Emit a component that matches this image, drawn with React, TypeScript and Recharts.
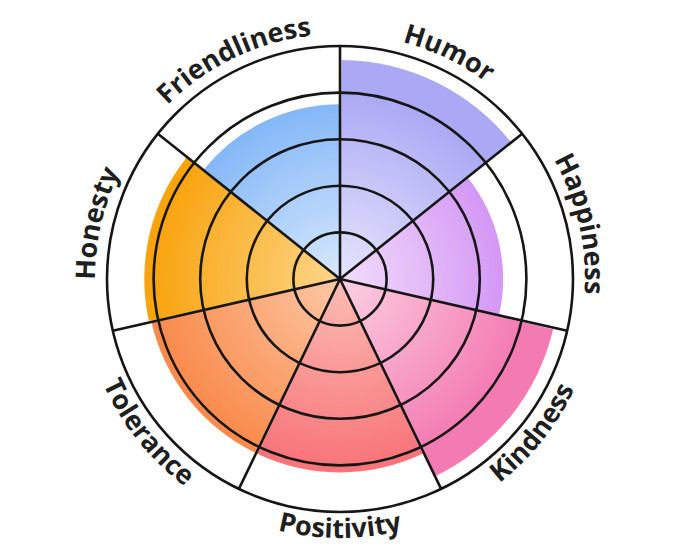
import React from 'react';
import {
  RadialBarChart,
  RadialBar,
  PolarGrid,
  PolarAngleAxis,
  PolarRadiusAxis,
  Cell
} from 'recharts';

// categories go clockwise starting at 12 o'clock
const categories = ['Humor', 'Happiness', 'Kindness', 'Positivity', 'Tolerance', 'Honesty', 'Friendliness'];
const scores = [4.7, 3.5, 4.7, 4.15, 4.15, 4.2, 3.75];
const scaleTicks = [0, 1, 2, 3, 4, 5];

const outerColors = ['#aba8f5', '#d08cf4', '#f47bb2', '#f87479', '#f98a4b', '#f9a30e', '#7cb3f7'];
const innerColors = ['#e6e5fc', '#f1defc', '#fcd0e2', '#fcbdb4', '#fdc8a6', '#fdd68a', '#d9e9fd'];

const data = categories.map((name, i) => ({ name, score: scores[i] }));

const WIDTH = 664;
const HEIGHT = 541;
const CX = 332;
const CY = 271;
const RADIUS = 233;

const step = 360 / categories.length;
// first band starts one step clockwise of 12 o'clock so Humor sits right of the top line
const START = 90 - step;
const END = START - 360;
// sector boundaries, in recharts' angle convention (90 = top, counter-clockwise positive)
const boundaryAngles = categories.map((_, i) => 90 - i * step);

// Curved label that follows the outer circle
const CurvedLabel = (props: any) => {
  const { payload } = props;
  const i = categories.indexOf(payload.value);
  if (i < 0) return null;
  const mid = (i + 0.5) * step; // clockwise from top
  const flip = mid > 90 && mid < 270;
  const r = flip ? RADIUS + 26 : RADIUS + 12;
  const half = 50;
  const pt = (deg: number) => [
    CX + r * Math.sin((deg * Math.PI) / 180),
    CY - r * Math.cos((deg * Math.PI) / 180)
  ];
  const [p1, p2] = flip ? [pt(mid + half), pt(mid - half)] : [pt(mid - half), pt(mid + half)];
  const d = `M ${p1[0]} ${p1[1]} A ${r} ${r} 0 0 ${flip ? 0 : 1} ${p2[0]} ${p2[1]}`;
  const id = `label-arc-${i}`;
  return (
    <g>
      <path id={id} d={d} fill="none" stroke="none" />
      <text
        fontSize={27}
        fontWeight={700}
        fill="#1f1f1f"
        fontFamily="'Open Sans', sans-serif"
      >
        <textPath href={`#${id}`} startOffset="50%" textAnchor="middle">
          {payload.value}
        </textPath>
      </text>
    </g>
  );
};

const chartProps = {
  width: WIDTH,
  height: HEIGHT,
  data,
  layout: 'centric' as const,
  cx: CX,
  cy: CY,
  innerRadius: 0,
  outerRadius: RADIUS,
  startAngle: START,
  endAngle: END,
  barCategoryGap: 0,
  barGap: 0,
  margin: { top: 0, right: 0, bottom: 0, left: 0 }
};

export default function App() {
  return (
    <div style={{ position: 'relative', width: WIDTH, height: HEIGHT }}>
      {/* bottom layer: the coloured sectors */}
      <div style={{ position: 'absolute', left: 0, top: 0 }}>
        <RadialBarChart {...chartProps}>
          <defs>
            {categories.map((c, i) => (
              <radialGradient
                key={c}
                id={`grad-${i}`}
                gradientUnits="userSpaceOnUse"
                cx={CX}
                cy={CY}
                r={190}
              >
                <stop offset="0%" stopColor={innerColors[i]} />
                <stop offset="100%" stopColor={outerColors[i]} />
              </radialGradient>
            ))}
          </defs>
          <PolarAngleAxis type="category" dataKey="name" tick={false} axisLine={false} tickLine={false} />
          <PolarRadiusAxis type="number" domain={[0, 5]} ticks={scaleTicks} tick={false} axisLine={false} />
          <RadialBar dataKey="score" stroke="none" isAnimationActive={false}>
            {data.map((d, i) => (
              <Cell key={d.name} fill={`url(#grad-${i})`} stroke="none" />
            ))}
          </RadialBar>
        </RadialBarChart>
      </div>
      {/* top layer: grid lines and curved labels drawn over the sectors */}
      <div style={{ position: 'absolute', left: 0, top: 0 }}>
        <RadialBarChart {...chartProps}>
          <PolarGrid
            gridType="circle"
            polarAngles={boundaryAngles}
            stroke="#161616"
            strokeWidth={2.6}
            strokeOpacity={1}
          />
          <PolarAngleAxis
            type="category"
            dataKey="name"
            axisLine={false}
            tickLine={false}
            tick={(p: any) => <CurvedLabel {...p} />}
          />
          <PolarRadiusAxis type="number" domain={[0, 5]} ticks={scaleTicks} tick={false} axisLine={false} />
          {/* invisible series so the grid has the same axes as the sectors below */}
          <RadialBar dataKey="score" fill="none" stroke="none" isAnimationActive={false} />
        </RadialBarChart>
      </div>
    </div>
  );
}
